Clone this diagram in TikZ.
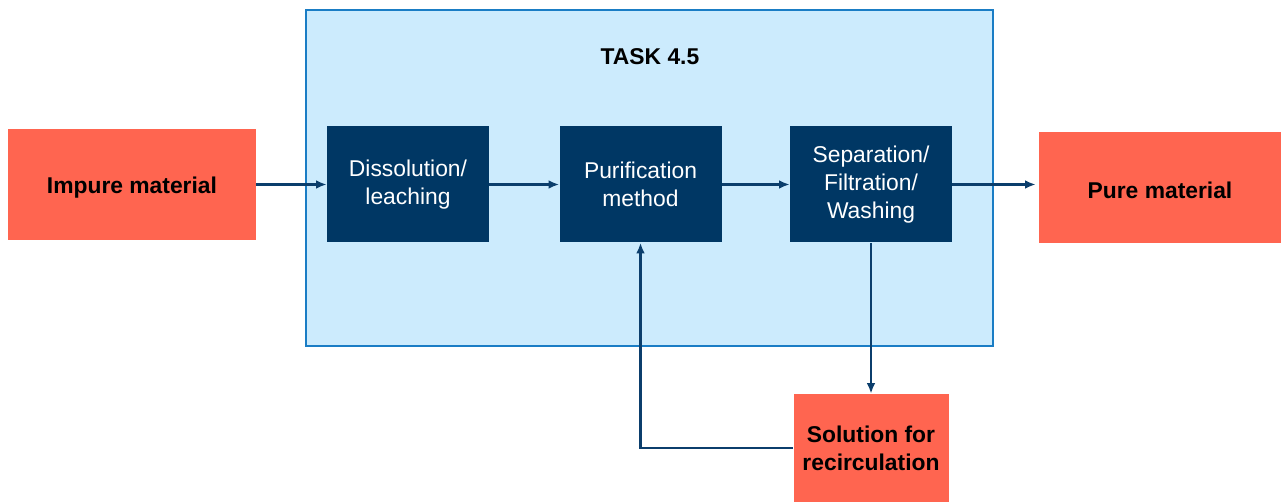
\documentclass[tikz,border=0pt]{standalone}
\usepackage{fontspec}
\setmainfont{Liberation Sans}
\usetikzlibrary{arrows.meta}
\definecolor{salmon}{HTML}{FF6550}
\definecolor{navy}{HTML}{003764}
\definecolor{paleblue}{HTML}{CCEBFD}
\definecolor{frameblue}{HTML}{1A7DC5}
\definecolor{linkblue}{HTML}{0B3E6C}
\tikzset{
  % a tall strut on the first line lowers the text a little inside the box
  lowered/.style={execute at begin node={\rule{0pt}{12.5pt}}},
  endbox/.style={rectangle, fill=salmon, draw=none, align=center, lowered,
    font=\fontsize{13}{15.8}\selectfont\bfseries, text=black, inner sep=0pt},
  stepbox/.style={rectangle, fill=navy, draw=none, align=center, lowered,
    minimum width=162*0.02cm, minimum height=116*0.02cm,
    font=\fontsize{13}{15.8}\selectfont, text=white, inner sep=0pt},
  flow/.style={draw=linkblue, line width=1.3pt, -{Latex[length=6pt,width=5pt]}},
}
\begin{document}
\begin{tikzpicture}[x=0.02cm, y=-0.02cm]
\useasboundingbox (0,0) rectangle (1281,502);
% task frame
\node[rectangle, fill=paleblue, draw=frameblue, line width=0.9pt,
  minimum width=687*0.02cm, minimum height=336*0.02cm, inner sep=0pt]
  (task) at (649.5,178) {};
\node[font=\fontsize{13}{15.5}\selectfont\bfseries] (title) at (650,57) {TASK 4.5};
% input / outputs
\node[endbox, minimum width=248*0.02cm, minimum height=111*0.02cm]
  (impure) at (132,184.5) {Impure material};
\node[endbox, minimum width=242*0.02cm, minimum height=111*0.02cm]
  (pure) at (1160,187.5) {Pure material};
\node[endbox, minimum width=155*0.02cm, minimum height=108*0.02cm]
  (sol) at (871,448) {Solution for\\recirculation};
% process steps
\node[stepbox] (diss) at (408,184.5) {Dissolution/\\leaching};
\node[stepbox] (puri) at (640.5,184.5) {Purification\\method};
\node[stepbox] (sepa) at (871,184.5) {Separation/\\Filtration/\\Washing};
% connectors
\draw[flow] (impure.east) -- (diss.west);
\draw[flow] (diss.east) -- (puri.west);
\draw[flow] (puri.east) -- (sepa.west);
\draw[flow] (sepa.east) -- ([xshift=-3*0.02cm]sepa.east -| pure.west);
\draw[flow] (sepa.south) -- (sol.north);
\draw[flow] (sol.west) -| (puri.south);
\end{tikzpicture}
\end{document}
